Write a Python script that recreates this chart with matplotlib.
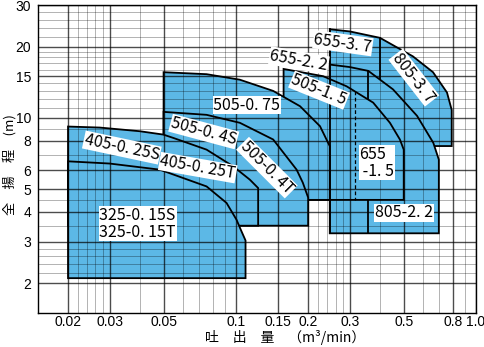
import numpy as np
import matplotlib
matplotlib.use('Agg')
import matplotlib.pyplot as plt
from matplotlib.ticker import FixedLocator, NullFormatter

plt.rcParams['font.family'] = ['Liberation Sans', 'Noto Sans CJK JP']

# top curve of every pump range: flow (m3/min) vs head (m)
q_325 = [0.02, 0.0298, 0.0482, 0.0755, 0.0914, 0.1006, 0.1049, 0.1097]
h_325 = [6.55, 6.41, 6.04, 5.13, 4.37, 3.71, 3.36, 3.03]
hmin_325 = 2.1

q_405 = [0.02, 0.0271, 0.0398, 0.0498, 0.0548, 0.0755, 0.0974, 0.1143, 0.1238]
h_405 = [9.19, 9.10, 8.78, 8.50, 8.23, 7.34, 6.24, 5.48, 5.05]
hmin_405 = 3.5

q_505_04 = [0.05, 0.0755, 0.1039, 0.143, 0.179, 0.19, 0.2]
h_505_04 = [10.6, 10.3, 9.53, 8.10, 6.04, 5.32, 4.6]
hmin_505_04 = 3.5

q_505_075 = [0.05, 0.0755, 0.1039, 0.143, 0.185, 0.224, 0.246]
h_505_075 = [15.6, 15.3, 14.5, 13.0, 11.2, 9.22, 7.59]
hmin_505_075 = 4.5

q_505_15 = [0.158, 0.231, 0.289, 0.373, 0.438, 0.482, 0.5]
h_505_15 = [16.1, 15.0, 13.6, 11.6, 9.53, 8.10, 7.34]
hmin_505_15 = 4.5

q_37 = [0.246, 0.298, 0.398, 0.546, 0.662, 0.757, 0.792]
h_37 = [23.7, 23.2, 21.8, 18.2, 15.6, 12.8, 10.8]
hmin_37 = 7.6

q_22 = [0.246, 0.298, 0.356, 0.451, 0.568, 0.664, 0.70]
h_22 = [16.8, 16.4, 15.8, 13.2, 10.2, 7.84, 6.66]
hmin_22 = 3.25

split_37 = 0.4     # 655-3.7 | 805-3.7
split_22 = 0.356   # 655-2.2 | 805-2.2
split_15 = 0.312   # 505-1.5 | 655-1.5 (dashed)

xticks = [0.02, 0.03, 0.05, 0.1, 0.15, 0.2, 0.3, 0.5, 0.8, 1.0]
xticklabels = ['0.02', '0.03', '0.05', '0.1', '0.15', '0.2', '0.3', '0.5', '0.8', '1.0']
xminor = [0.022, 0.024, 0.026, 0.028, 0.04, 0.06, 0.07, 0.08, 0.09,
          0.22, 0.24, 0.26, 0.28, 0.4, 0.6, 0.7, 0.9]
yticks = [2, 3, 4, 5, 6, 8, 10, 15, 20, 30]
yminor = [2.2, 2.4, 2.6, 2.8, 3.5, 4.5, 7, 9, 11, 12, 13, 14,
          16, 17, 18, 19, 22, 24, 26, 28]

# label text, position (flow, head), rotation
labels = [
    ('655-3. 7', 0.279, 20.7, -8),
    ('805-3. 7', 0.551, 14.8, -52),
    ('655-2. 2', 0.183, 17.5, -10),
    ('505-1. 5', 0.222, 13.1, -22),
    ('505-0. 75', 0.111, 11.3, 0),
    ('505-0. 4S', 0.0735, 8.75, -15),
    ('505-0. 4T', 0.1346, 6.16, -45),
    ('405-0. 25S', 0.0335, 7.49, -12),
    ('405-0. 25T', 0.0694, 6.16, -10),
    ('655\n -1. 5', 0.386, 6.47, 0),
    ('805-2. 2', 0.501, 3.97, 0),
    ('325-0. 15S\n325-0. 15T', 0.039, 3.57, 0),
]

BLUE = '#5cb8e6'
LW = 1.3


def head_at(q, qs, hs):
    return 10 ** np.interp(np.log10(q), np.log10(qs), np.log10(hs))


def region(ax, qs, hs, hmin, z):
    xs = list(qs) + [qs[-1], qs[0]]
    ys = list(hs) + [hmin, hmin]
    ax.fill(xs, ys, facecolor=BLUE, edgecolor='black', linewidth=LW,
            joinstyle='miter', zorder=z)


fig = plt.figure(figsize=(4.85, 3.47), dpi=100)
ax = fig.add_axes([0.0784, 0.0988, 0.9031, 0.8867])
ax.set_xscale('log')
ax.set_yscale('log')
ax.set_xlim(0.015, 1.0)
ax.set_ylim(1.5, 30)

# later regions hide the edges of earlier ones
region(ax, q_37, h_37, hmin_37, 1.00)
ax.plot([split_37, split_37], [head_at(split_37, q_37, h_37), head_at(split_37, q_22, h_22)],
        color='black', lw=LW, zorder=1.05)
region(ax, q_22, h_22, hmin_22, 1.10)
ax.plot([split_22, split_22], [head_at(split_22, q_22, h_22), hmin_22],
        color='black', lw=LW, zorder=1.15)
region(ax, q_505_15, h_505_15, hmin_505_15, 1.20)
ax.plot([split_15, split_15], [head_at(split_15, q_505_15, h_505_15), hmin_505_15],
        color='black', lw=0.9, ls=(0, (3, 2)), zorder=1.25)
region(ax, q_505_075, h_505_075, hmin_505_075, 1.30)
region(ax, q_505_04, h_505_04, hmin_505_04, 1.40)
region(ax, q_405, h_405, hmin_405, 1.50)
region(ax, q_325, h_325, hmin_325, 1.60)
ax.plot([q_22[0], q_22[0]], [hmin_22, h_37[0]], color='black', lw=LW, zorder=1.7)

ax.xaxis.set_major_locator(FixedLocator(xticks))
ax.set_xticklabels(xticklabels)
ax.xaxis.set_minor_locator(FixedLocator(xminor))
ax.xaxis.set_minor_formatter(NullFormatter())
ax.yaxis.set_major_locator(FixedLocator(yticks))
ax.set_yticklabels([str(v) for v in yticks])
ax.yaxis.set_minor_locator(FixedLocator(yminor))
ax.yaxis.set_minor_formatter(NullFormatter())
ax.tick_params(which='both', length=0, labelsize=10)
ax.tick_params(axis='x', pad=2)
ax.tick_params(axis='y', pad=5)

ax.set_axisbelow(False)
ax.grid(which='major', color='black', alpha=0.7, linewidth=1.0)
ax.grid(which='minor', color='black', alpha=0.3, linewidth=0.7)
for s in ax.spines.values():
    s.set_linewidth(1.0)
    s.set_zorder(3)

for text, q, h, rot in labels:
    ax.text(q, h, text, rotation=rot, rotation_mode='anchor', ha='center', va='center',
            family=['Noto Sans CJK JP'], fontsize=11.5, linespacing=1.0,
            multialignment='left',
            bbox=dict(facecolor='white', edgecolor='none', pad=0.5), zorder=4)

fig.text(0.588, 0.026, '吐　出　量　（m³/min）', ha='center', va='center', fontsize=10,
         family=['Noto Sans CJK JP', 'DejaVu Sans'])
fig.text(0.019, 0.525, '全　揚　程　(m)', ha='center', va='center', rotation=90, fontsize=9.5,
         family=['Noto Sans CJK JP', 'DejaVu Sans'])

fig.savefig('out.png', dpi=100)
